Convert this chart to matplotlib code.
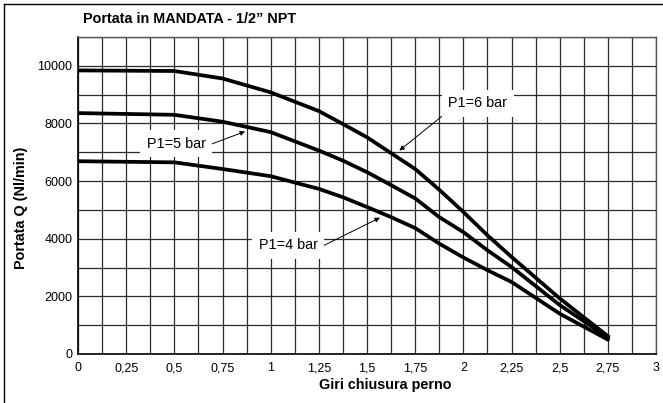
import numpy as np
import matplotlib
matplotlib.use("Agg")
import matplotlib.pyplot as plt
from matplotlib.lines import Line2D

plt.rcParams['font.family'] = ['Liberation Sans', 'DejaVu Sans']

# Turns of the closing pin and flow rate Q (Nl/min) per inlet pressure
giri = [0, 0.5, 0.75, 1, 1.25, 1.375, 1.5, 1.625, 1.75, 1.875, 2, 2.125, 2.25, 2.5, 2.75]
q_6bar = [9840, 9820, 9560, 9080, 8430, 7980, 7520, 6970, 6420, 5700, 4930, 4120, 3370, 1930, 620]
q_5bar = [8360, 8300, 8060, 7700, 7060, 6710, 6310, 5860, 5400, 4750, 4230, 3600, 3020, 1700, 580]
q_4bar = [6690, 6650, 6420, 6170, 5730, 5440, 5100, 4750, 4370, 3830, 3350, 2910, 2500, 1400, 500]

x_major = ["0", "0,25", "0,5", "0,75", "1", "1,25", "1,5", "1,75",
           "2", "2,25", "2,5", "2,75", "3"]
y_major = ["0", "2000", "4000", "6000", "8000", "10000"]

W, H = 663, 403
fig = plt.figure(figsize=(W / 100, H / 100), dpi=100)
ax = fig.add_axes([78 / W, 1 - 354 / H, (656 - 78) / W, (354 - 37) / H])

# outer frame
fig.add_artist(Line2D([3.5 / W, 3.5 / W], [0, 1 - 3.5 / H], transform=fig.transFigure,
                      color="black", lw=1.0))
fig.add_artist(Line2D([3.5 / W, 1], [1 - 3.5 / H, 1 - 3.5 / H], transform=fig.transFigure,
                      color="black", lw=1.0))

ax.set_xlim(0, 3)
ax.set_ylim(0, 11000)

xt = np.arange(0, 3.001, 0.125)
xl = []
for i in range(len(xt)):
    xl.append(x_major[i // 2] if i % 2 == 0 else "")
ax.set_xticks(xt)
ax.set_xticklabels(xl, fontsize=9)

yt = np.arange(0, 11001, 1000)
yl = []
for i in range(len(yt)):
    yl.append(y_major[i // 2] if (i % 2 == 0 and i // 2 < len(y_major)) else "")
ax.set_yticks(yt)
ax.set_yticklabels(yl, fontsize=9)

ax.tick_params(axis="both", length=0)
ax.tick_params(axis="x", pad=6)
ax.tick_params(axis="y", pad=4)

ax.grid(True, color="#2a2a2a", lw=0.9)
ax.set_axisbelow(True)
for s in ("left", "bottom"):
    ax.spines[s].set_color("black")
    ax.spines[s].set_linewidth(1.2)
for s in ("top", "right"):
    ax.spines[s].set_color("#555555")
    ax.spines[s].set_linewidth(1.0)

for q in (q_6bar, q_5bar, q_4bar):
    ax.plot(giri, q, color="black", lw=2.7, solid_joinstyle="miter", zorder=4)

arrow_kw = dict(arrowstyle="-|>", color="black", lw=0.7, mutation_scale=7,
                shrinkA=0, shrinkB=0)
box = dict(boxstyle="square,pad=0.45", fc="white", ec="none")

labels = [
    ("P1=6 bar", (2.074, 8700), (1.913, 8380), (1.668, 7060)),
    ("P1=5 bar", (0.51, 7290), (0.663, 7210), (0.867, 7720)),
    ("P1=4 bar", (1.09, 3770), (1.277, 3770), (1.567, 4730)),
]
for txt, pos, tail, tip in labels:
    ax.annotate("", xy=tip, xytext=tail, arrowprops=arrow_kw, zorder=5)
    ax.text(pos[0], pos[1], txt, fontsize=10.4, ha="center", va="center",
            bbox=box, zorder=6)

fig.text(83 / W, 1 - 18.7 / H, "Portata in MANDATA - 1/2\u201d NPT", fontsize=10.4,
         fontweight="bold", ha="left", va="center")
fig.text(385 / W, 1 - 385 / H, "Giri chiusura perno", fontsize=10.4,
         fontweight="bold", ha="center", va="center")
fig.text(21 / W, 1 - 208 / H, "Portata Q (Nl/min)", fontsize=10.4,
         fontweight="bold", ha="center", va="center", rotation=90)

fig.savefig("out.png", dpi=100)
